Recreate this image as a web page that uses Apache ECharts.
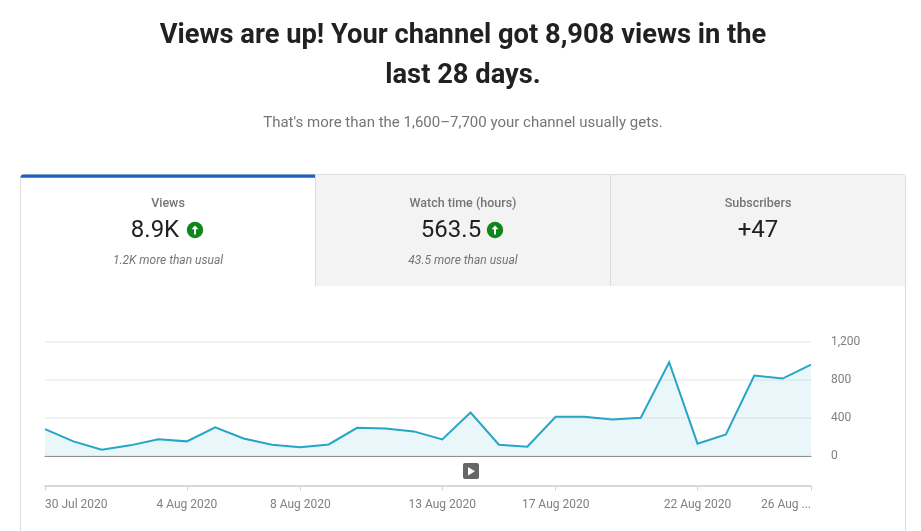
<!DOCTYPE html>
<html>
<head>
<meta charset="utf-8">
<title>Views</title>
<style>
html, body { margin: 0; padding: 0; background: #fff; }
#chart { width: 921px; height: 531px; }
</style>
<script src="https://cdn.jsdelivr.net/npm/echarts@6/dist/echarts.min.js"></script>
</head>
<body>
<div id="chart"></div>
<script>
var days = ['30 Jul 2020', '31 Jul 2020', '1 Aug 2020', '2 Aug 2020', '3 Aug 2020', '4 Aug 2020', '5 Aug 2020',
	'6 Aug 2020', '7 Aug 2020', '8 Aug 2020', '9 Aug 2020', '10 Aug 2020', '11 Aug 2020', '12 Aug 2020',
	'13 Aug 2020', '14 Aug 2020', '15 Aug 2020', '16 Aug 2020', '17 Aug 2020', '18 Aug 2020', '19 Aug 2020',
	'20 Aug 2020', '21 Aug 2020', '22 Aug 2020', '23 Aug 2020', '24 Aug 2020', '25 Aug 2020', '26 Aug ...'];
var views = [283, 154, 66, 112, 175, 154, 301, 185, 119, 91, 122, 297, 290, 259,
	175, 458, 119, 98, 413, 413, 385, 402, 987, 130, 228, 847, 815, 962];
var tickDays = [0, 5, 9, 14, 18, 23, 27];

var headline1 = 'Views are up! Your channel got 8,908 views in the';
var headline2 = 'last 28 days.';
var subline = "That's more than the 1,600\u20137,700 your channel usually gets.";

var tabNames = ['Views', 'Watch time (hours)', 'Subscribers'];
var tabValues = ['8.9K', '563.5', '+47'];
var tabNotes = ['1.2K more than usual', '43.5 more than usual', ''];

var FONT = 'Roboto, sans-serif';

function label(x, y, text, size, color, extra) {
	var style = { x: x, y: y, text: text, fontSize: size, fontFamily: FONT, fill: color,
		textAlign: 'center', textVerticalAlign: 'middle' };
	for (var k in extra) style[k] = extra[k];
	return { type: 'text', silent: true, z: 10, style: style };
}

function upIcon(cx, cy) {
	return [
		{ type: 'circle', silent: true, z: 10, shape: { cx: cx, cy: cy, r: 8.2 }, style: { fill: '#0f861c' } },
		{ type: 'polygon', silent: true, z: 11, shape: { points: [
			[cx, cy - 4.6], [cx + 3.4, cy - 0.8], [cx + 1, cy - 0.8], [cx + 1, cy + 4.4],
			[cx - 1, cy + 4.4], [cx - 1, cy - 0.8], [cx - 3.4, cy - 0.8]
		] }, style: { fill: '#fff' } }
	];
}

var shapes = [
	// outer card
	{ type: 'rect', silent: true, z: 1, shape: { x: 20.5, y: 174.5, width: 885, height: 400, r: 3 },
		style: { fill: '#fff', stroke: '#dcdcdc', lineWidth: 1 } },
	// inactive tabs
	{ type: 'rect', silent: true, z: 2, shape: { x: 315, y: 175, width: 590, height: 111, r: [0, 3, 0, 0] },
		style: { fill: '#f3f3f3' } },
	{ type: 'line', silent: true, z: 3, shape: { x1: 315.5, y1: 175, x2: 315.5, y2: 286 },
		style: { stroke: '#dcdcdc', lineWidth: 1 } },
	{ type: 'line', silent: true, z: 3, shape: { x1: 610.5, y1: 175, x2: 610.5, y2: 286 },
		style: { stroke: '#dcdcdc', lineWidth: 1 } },
	// active tab marker
	{ type: 'rect', silent: true, z: 4, shape: { x: 20.5, y: 174.5, width: 294.5, height: 3.2, r: [3, 0, 0, 0] },
		style: { fill: '#1c62c4' } },
	// play button
	{ type: 'rect', silent: true, z: 10, shape: { x: 463, y: 463, width: 16, height: 16, r: 2 },
		style: { fill: '#666' } },
	{ type: 'polygon', silent: true, z: 11, shape: { points: [[468, 467], [468, 475.5], [475, 471.2]] },
		style: { fill: '#fff' } },
	label(463, 36.5, headline1, 27.3, '#212121', { fontWeight: 700 }),
	label(463, 76.5, headline2, 27.3, '#212121', { fontWeight: 700 }),
	label(463, 123.5, subline, 15, '#757575')
];

var tabCenters = [168, 463, 758];
var valueShift = [-13, -12, 0];
var iconShift = [27, 32, 0];
for (var i = 0; i < tabNames.length; i++) {
	shapes.push(label(tabCenters[i], 203.5, tabNames[i], 12.5, '#757575', { fontWeight: 500 }));
	shapes.push(label(tabCenters[i] + valueShift[i], 231, tabValues[i], 24, '#212121'));
	if (tabNotes[i]) {
		shapes.push(label(tabCenters[i], 260.5, tabNotes[i], 12, '#757575', { fontStyle: 'italic' }));
		shapes = shapes.concat(upIcon(tabCenters[i] + iconShift[i], 230));
	}
}

var ech = echarts.init(document.getElementById('chart'));
var option = {
	animation: false,
	textStyle: { fontFamily: FONT },
	grid: { left: 45, right: 110, top: 342, height: 114, containLabel: false, z: 5 },
	graphic: shapes,
	xAxis: [{
		type: 'category',
		boundaryGap: false,
		data: days,
		z: 6,
		axisLine: { lineStyle: { color: '#8f8f8f', width: 1 } },
		axisTick: { show: false },
		axisLabel: { show: false },
		splitLine: { show: false }
	}, {
		type: 'category',
		position: 'bottom',
		offset: 29.5,
		boundaryGap: false,
		data: days,
		z: 6,
		axisLine: { lineStyle: { color: '#cccccc', width: 1.5 } },
		axisTick: {
			show: true,
			length: 5,
			lineStyle: { color: '#d4d4d4' },
			interval: function(idx) { return tickDays.indexOf(idx) >= 0; }
		},
		axisLabel: {
			color: '#808080',
			fontSize: 12,
			margin: 13,
			hideOverlap: false,
			alignMinLabel: 'left',
			alignMaxLabel: 'right',
			interval: function(idx) { return tickDays.indexOf(idx) >= 0; }
		},
		splitLine: { show: false }
	}],
	yAxis: [{
		type: 'value',
		position: 'right',
		min: 0,
		max: 1200,
		interval: 400,
		z: 3,
		axisLine: { show: false },
		axisTick: { show: false },
		axisLabel: {
			color: '#808080',
			fontSize: 12,
			margin: 20,
			padding: [4, 0, 0, 0],
			formatter: function(v) { return v.toLocaleString('en-US'); }
		},
		splitLine: { lineStyle: { color: '#eeeeee', width: 1.5 } }
	}],
	series: [{
		name: 'Views',
		type: 'line',
		data: views,
		z: 5,
		showSymbol: false,
		symbol: 'none',
		lineStyle: { color: '#26a5c6', width: 2, join: 'miter' },
		areaStyle: { color: 'rgba(130,205,225,0.25)' }
	}]
};
ech.setOption(option);
</script>
</body>
</html>
